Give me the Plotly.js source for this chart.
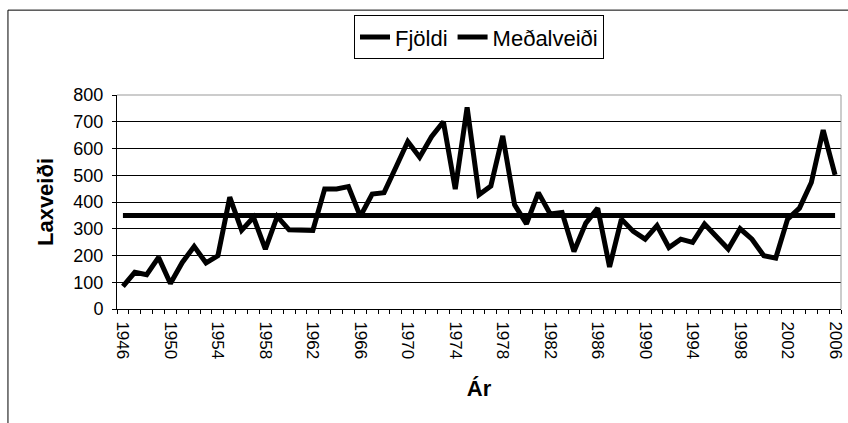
<!DOCTYPE html>
<html>
<head>
<meta charset="utf-8">
<script src="https://cdn.plot.ly/plotly-3.0.1.min.js"></script>
<style>
  body { margin: 0; padding: 0; background: #fff; }
  #myPlot { width: 848px; height: 423px; }
</style>
</head>
<body>
<div id="myPlot"></div>
<script>
var years = [];
for (var yr = 1946; yr <= 2006; yr++) years.push(yr);

var fjoldi = [85, 137, 128, 193, 95, 174, 234, 172, 199, 418,
              294, 343, 224, 346, 296, 294, 294, 449, 449, 458,
              346, 430, 435, 530, 626, 567, 644, 700, 448, 754,
              427, 460, 647, 389, 318, 435, 355, 361, 215, 321,
              377, 157, 336, 290, 261, 312, 230, 261, 249, 318,
              271, 224, 300, 261, 199, 190, 336, 377, 473, 669,
              501];

var medalYears = [1946, 2006];
var medalveidi = [350, 350];

var labelYears = [1946, 1950, 1954, 1958, 1962, 1966, 1970, 1974, 1978, 1982, 1986, 1990, 1994, 1998, 2002, 2006];

var trace1 = {
  x: years,
  y: fjoldi,
  name: 'Fjöldi',
  type: 'scatter',
  mode: 'lines',
  line: {color: '#000', width: 5}
};

var trace2 = {
  x: medalYears,
  y: medalveidi,
  name: 'Meðalveiði',
  type: 'scatter',
  mode: 'lines',
  line: {color: '#000', width: 5}
};

var fam = 'Liberation Sans, Arial, sans-serif';

var layout = {
  width: 848,
  height: 423,
  margin: {l: 117, r: 7, t: 95, b: 114},
  paper_bgcolor: '#fff',
  plot_bgcolor: '#fff',
  font: {family: fam, color: '#000', size: 18},
  showlegend: true,
  legend: {
    orientation: 'h',
    x: 0.5, xanchor: 'center',
    y: 1.373, yanchor: 'top',
    bordercolor: '#000', borderwidth: 1,
    font: {size: 22},
    itemwidth: 30
  },
  xaxis: {
    type: 'linear',
    range: [1945.5, 2006.5],
    tickvals: labelYears,
    tickangle: 90,
    ticks: '',
    ticklabelstandoff: 8,
    showgrid: false,
    zeroline: false,
    showline: true, linecolor: '#000', linewidth: 1,
    tickfont: {size: 17},
    minor: {tick0: 1945.5, dtick: 1, ticks: 'outside', ticklen: 4, tickcolor: '#000', showgrid: false},
    title: {text: 'Ár', font: {size: 22, weight: 'bold'}, standoff: 22}
  },
  yaxis: {
    range: [0, 800],
    dtick: 100,
    ticks: 'outside', ticklen: 4, tickcolor: '#000',
    ticklabelstandoff: 5,
    showgrid: true, gridcolor: '#000', gridwidth: 1,
    zeroline: false,
    showline: true, linecolor: '#000', linewidth: 1,
    tickfont: {size: 18},
    title: {text: 'Laxveiði', font: {size: 22, weight: 'bold'}, standoff: 13}
  },
  shapes: [
    {type: 'line', xref: 'paper', yref: 'paper', x0: 1, x1: 1, y0: 0, y1: 1, line: {color: '#999', width: 1}},
    {type: 'line', xref: 'paper', yref: 'paper', x0: 0, x1: 1, y0: 1, y1: 1, line: {color: '#999', width: 1}},
    {type: 'line', xref: 'paper', yref: 'paper', x0: -0.1506, x1: 1.02, y0: 1.3966, y1: 1.3966, line: {color: '#000', width: 1}},
    {type: 'line', xref: 'paper', yref: 'paper', x0: -0.1506, x1: -0.1506, y0: -0.6, y1: 1.3966, line: {color: '#000', width: 1}}
  ]
};

Plotly.newPlot('myPlot', [trace1, trace2], layout, {displayModeBar: false, staticPlot: true});
</script>
</body>
</html>
